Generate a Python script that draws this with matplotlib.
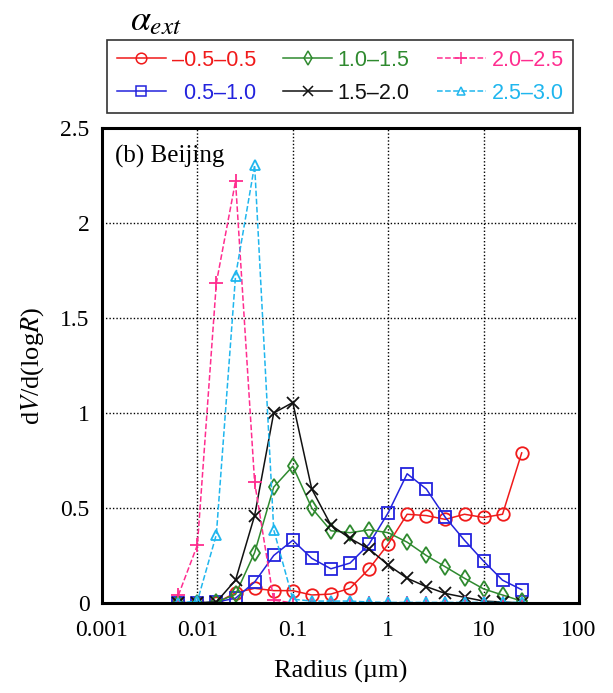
import matplotlib
matplotlib.use("Agg")
import matplotlib.pyplot as plt
from matplotlib.lines import Line2D

plt.rcParams['mathtext.fontset'] = 'stix'
plt.rcParams['font.family'] = ['Liberation Serif', 'DejaVu Serif']

# Radius bins (µm)
radius = [0.00631, 0.01, 0.0158, 0.0251, 0.0398, 0.0631, 0.1, 0.158, 0.251,
          0.398, 0.631, 1.0, 1.58, 2.51, 3.98, 6.31, 10.0, 15.8, 25.1]

# Volume size distributions grouped by extinction Angstrom exponent
v_m05_05 = [0.0, 0.0, 0.0, 0.054, 0.077, 0.065, 0.065, 0.042, 0.047,
            0.077, 0.18, 0.31, 0.467, 0.46, 0.44, 0.467, 0.45, 0.467, 0.79]
v_05_10 = [0.0, 0.0, 0.005, 0.025, 0.11, 0.25, 0.33, 0.235, 0.18,
           0.21, 0.31, 0.475, 0.68, 0.60, 0.45, 0.33, 0.22, 0.12, 0.07]
v_10_15 = [0.0, 0.0, 0.005, 0.045, 0.265, 0.61, 0.72, 0.50, 0.38,
           0.37, 0.385, 0.37, 0.32, 0.25, 0.19, 0.13, 0.074, 0.042, 0.01]
v_15_20 = [0.0, 0.0, 0.005, 0.12, 0.46, 1.00, 1.055, 0.60, 0.41,
           0.34, 0.284, 0.20, 0.13, 0.086, 0.05, 0.03, 0.01, 0.005, 0.0]
v_20_25 = [0.04, 0.305, 1.685, 2.22, 0.635, 0.015, 0.0, 0.0, 0.0,
           0.0, 0.0, 0.0, 0.0, 0.0, 0.0, 0.0, 0.0, 0.0, 0.0]
v_25_30 = [0.0, 0.01, 0.36, 1.72, 2.305, 0.385, 0.02, 0.01, 0.01,
           0.01, 0.005, 0.003, 0.003, 0.003, 0.003, 0.003, 0.003, 0.003, 0.003]

labels = ['\u20130.5\u20130.5', '  0.5\u20131.0', '1.0\u20131.5',
          '1.5\u20132.0', '2.0\u20132.5', '2.5\u20133.0']

fig = plt.figure(figsize=(6.13, 6.93), dpi=100)
ax = fig.add_axes([0.1664, 0.1299, 0.9445 - 0.1664, 0.8153 - 0.1299])

series = [
    (v_m05_05, '#f01a1a', 'o', '-', 9, labels[0]),
    (v_05_10, '#2323dd', 's', '-', 9, labels[1]),
    (v_10_15, '#2f8a2f', 'd', '-', 8, labels[2]),
    (v_15_20, '#111111', 'x', '-', 9, labels[3]),
    (v_20_25, '#ff2d8f', '+', '--', 10, labels[4]),
    (v_25_30, '#1fb6ee', '^', '--', 7, labels[5]),
]

handles = []
for vals, col, mk, ls, ms, lab in series:
    ax.plot(radius, vals, color=col, marker=mk, linestyle=ls, lw=1.1,
            markersize=ms, markerfacecolor='none', markeredgecolor=col,
            markeredgewidth=1.3, zorder=3)
    handles.append(Line2D([], [], color=col, marker=mk, linestyle=ls, lw=1.1,
                          markersize=ms * 0.85, markerfacecolor='none',
                          markeredgecolor=col, markeredgewidth=1.1))

ax.set_xscale('log')
ax.set_xlim(0.001, 100)
ax.set_ylim(0, 2.5)
ax.set_xticks([0.001, 0.01, 0.1, 1, 10, 100])
ax.set_xticklabels(['0.001', '0.01', '0.1', '1', '10', '100'])
ax.set_yticks([0, 0.5, 1, 1.5, 2, 2.5])
ax.set_yticklabels(['0', '0.5', '1', '1.5', '2', '2.5'])
ax.minorticks_off()
ax.tick_params(axis='both', length=0, labelsize=17)
ax.tick_params(axis='x', pad=12)
ax.tick_params(axis='y', pad=9)
ax.grid(True, which='major', color='black', linestyle=(0, (1, 1.5)), lw=1.0)
for s in ax.spines.values():
    s.set_linewidth(2.2)
    s.set_zorder(5)

ax.set_xlabel('Radius (\u00b5m)', fontsize=19, labelpad=14)
ax.set_ylabel('d$V$/d(log$R$)', fontsize=19, labelpad=10)
ax.text(0.027, 0.965, '(b) Beijing', transform=ax.transAxes, fontsize=18,
        va='top', ha='left')

leg = fig.legend(handles=handles, labels=labels,
                 ncol=3, loc='upper left',
                 bbox_to_anchor=(107 / 613, 1 - 40 / 693),
                 frameon=True, fancybox=False,
                 edgecolor='#333333', framealpha=1, handlelength=2.3,
                 handletextpad=0.25, columnspacing=1.25, labelspacing=0.55,
                 borderpad=0.45, borderaxespad=0, labelcolor='linecolor',
                 prop={'family': ['Liberation Sans'], 'size': 15.5})
leg.get_frame().set_linewidth(1.2)

fig.text(130 / 613, 1 - 22 / 693, r'$\alpha_{ext}$', fontsize=26,
         va='center', ha='left')

fig.savefig('out.png', dpi=100)
